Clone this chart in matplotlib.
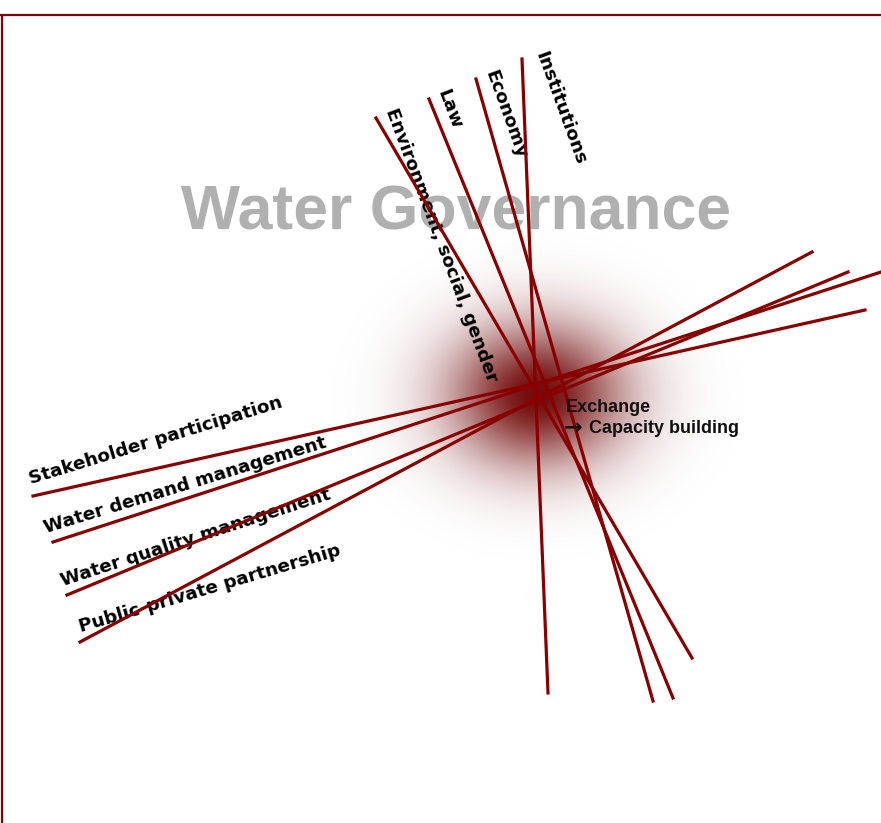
"""
Water Governance diagram
------------------------
Bundle of crossing lines with labels, drawn in pixel coordinates.
"""

import numpy as np
import matplotlib
matplotlib.use("Agg")
import matplotlib.pyplot as plt

W, H = 881, 823
LINE_COLOR = "#880000"

# Steep lines (top end -> bottom end), in pixel coordinates
steep_names = ["Environment, social, gender", "Law", "Economy", "Institutions"]
steep_x0 = [376, 429, 476, 522]
steep_y0 = [118, 99, 79, 59]
steep_x1 = [692, 673, 653, 548]
steep_y1 = [658, 698, 701, 693]
# label start (centre line) and rotation
steep_lx = [390, 442, 490, 540]
steep_ly = [109, 90, 71, 52]
steep_rot = [-69.5, -69, -70, -70]

# Flat lines (left end -> right end)
flat_names = ["Stakeholder participation", "Water demand management",
              "Water quality management", "Public-private partnership"]
flat_x0 = [33, 53, 67, 80]
flat_y0 = [496, 542, 595, 642]
flat_x1 = [865, 881, 848, 812]
flat_y1 = [310, 272, 272, 252]
flat_lx = [29, 44, 61, 79]
flat_ly = [479, 528, 581, 627]
flat_rot = [17, 17, 18, 16.5]

# Glow at the crossing
glow_cx, glow_cy = 537, 395
glow_sx, glow_sy = 62, 50

title = "Water Governance"
note_top = "Exchange"
note_arrow = "\u2192"
note_bottom = "Capacity building"

fig = plt.figure(figsize=(W / 100, H / 100), dpi=100)
ax = fig.add_axes([0, 0, 1, 1])
ax.set_xlim(0, W)
ax.set_ylim(H, 0)
ax.axis("off")

# frame (top and left only)
ax.plot([0, W], [15, 15], color=LINE_COLOR, lw=1.6, solid_capstyle="butt")
ax.plot([2, 2], [15, H], color=LINE_COLOR, lw=1.6, solid_capstyle="butt")

# title behind everything
ax.text(456, 213, title, fontsize=45, fontweight="bold", color="#b0b0b0",
        family="Liberation Sans", ha="center", va="center", zorder=1)

# radial glow
gx = np.linspace(glow_cx - 220, glow_cx + 220, 440)
gy = np.linspace(glow_cy - 190, glow_cy + 190, 380)
XX, YY = np.meshgrid(gx, gy)
alpha = np.exp(-0.5 * (((XX - glow_cx) / glow_sx) ** 2 + ((YY - glow_cy) / glow_sy) ** 2))
rgba = np.zeros(XX.shape + (4,))
rgba[..., 0] = 0.45
rgba[..., 1] = 0.04
rgba[..., 2] = 0.04
rgba[..., 3] = alpha
ax.imshow(rgba, extent=[gx[0], gx[-1], gy[-1], gy[0]], zorder=2,
          interpolation="bilinear", aspect="auto")
ax.set_xlim(0, W)
ax.set_ylim(H, 0)

label_font = dict(fontsize=13.2, fontweight="bold", color="black",
                  family="DejaVu Sans", rotation_mode="anchor",
                  ha="left", va="center", zorder=3)

for i, name in enumerate(steep_names):
    ax.plot([steep_x0[i], steep_x1[i]], [steep_y0[i], steep_y1[i]],
            color=LINE_COLOR, lw=2.3, zorder=4)
    ax.text(steep_lx[i], steep_ly[i], name, rotation=steep_rot[i], **label_font)

for i, name in enumerate(flat_names):
    ax.plot([flat_x0[i], flat_x1[i]], [flat_y0[i], flat_y1[i]],
            color=LINE_COLOR, lw=2.3, zorder=4)
    ax.text(flat_lx[i], flat_ly[i], name, rotation=flat_rot[i], **label_font)

# note next to the crossing
note_font = dict(fontweight="bold", color="#111111",
                 ha="left", va="center", zorder=5)
ax.text(566, 407, note_top, family="Liberation Sans", fontsize=13, **note_font)
ax.text(564, 428, note_arrow, family="DejaVu Sans", fontsize=16, **note_font)
ax.text(589, 428, note_bottom, family="Liberation Sans", fontsize=13, **note_font)

fig.savefig("out.png", dpi=100, facecolor="white")
print("Saved out.png")
